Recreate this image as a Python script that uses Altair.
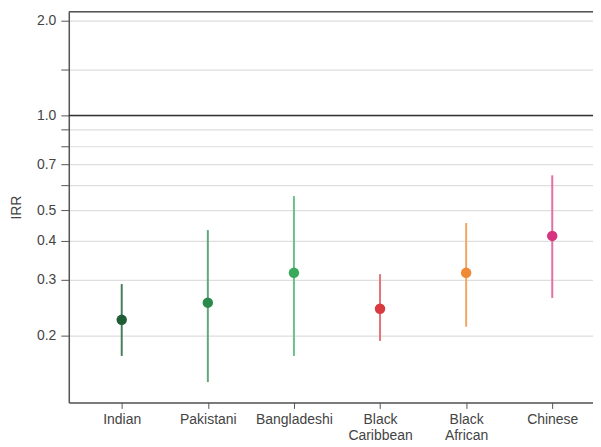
import altair as alt
import pandas as pd

categories = ["Indian", "Pakistani", "Bangladeshi", "Black Caribbean", "Black African", "Chinese"]
irr = [0.224, 0.254, 0.316, 0.243, 0.316, 0.414]
ci_low = [0.172, 0.142, 0.172, 0.192, 0.213, 0.263]
ci_high = [0.291, 0.432, 0.554, 0.313, 0.455, 0.645]
point_colors = ["#1f5d37", "#2b8a4b", "#3aa95b", "#d93a40", "#ee8a36", "#d6347f"]
bar_colors = ["#4a7d5c", "#62a67c", "#6cbf88", "#e0757b", "#f2a663", "#e070a6"]

y_ticks = [0.2, 0.3, 0.4, 0.5, 0.6, 0.7, 0.8, 0.9, 1.0, 1.4, 2.0]
labelled = [0.2, 0.3, 0.4, 0.5, 0.7, 1.0, 2.0]
ref_value = [1.0]

df = pd.DataFrame({"group": categories, "irr": irr, "lo": ci_low, "hi": ci_high})
ref_df = pd.DataFrame({"v": ref_value})

W, H = 526, 392
FONT = "Liberation Sans"
FS = 14

xscale = alt.Scale(type="point", domain=categories, padding=0.544, align=0.565)
yscale = alt.Scale(type="log", domain=[0.1224, 2.136], nice=False, zero=False)

x_enc = alt.X("group:N", scale=xscale, sort=categories,
              axis=alt.Axis(title=None, labelAngle=0,
                            labelExpr="split(datum.label, ' ')",
                            labelFontSize=FS, labelColor="#444", labelFont=FONT,
                            labelLineHeight=16, tickSize=6, tickColor="#555",
                            domainColor="#555", domainWidth=1.5, labelPadding=4,
                            grid=False))

lab_arr = "[" + ",".join(str(v) for v in labelled) + "]"
y_axis = alt.Axis(title="IRR", values=y_ticks,
                  labelExpr=f"indexof({lab_arr}, datum.value) >= 0 ? format(datum.value, '.1f') : ''",
                  labelFontSize=FS, labelColor="#444", labelFont=FONT,
                  titleFontSize=FS, titleColor="#444", titleFont=FONT, titleFontWeight="normal",
                  titlePadding=13, tickSize=8, tickColor="#555", domainColor="#555",
                  domainWidth=1.5, labelPadding=5, grid=True, gridColor="#dedede",
                  gridWidth=1.2, labelFlush=False)

bars = alt.Chart(df).mark_rule(strokeWidth=2).encode(
    x=x_enc,
    y=alt.Y("lo:Q", scale=yscale, axis=y_axis),
    y2="hi:Q",
    color=alt.Color("group:N", scale=alt.Scale(domain=categories, range=bar_colors), legend=None),
)

points = alt.Chart(df).mark_circle(size=110, opacity=1).encode(
    x=alt.X("group:N", scale=xscale, sort=categories),
    y=alt.Y("irr:Q", scale=yscale),
    color=alt.Color("group:N", scale=alt.Scale(domain=categories, range=point_colors), legend=None),
)

ref = alt.Chart(ref_df).mark_rule(color="#333", strokeWidth=1.5).encode(
    y=alt.Y("v:Q", scale=yscale),
)

top_line = alt.Chart(ref_df).mark_rule(color="#555", strokeWidth=1.5).encode(
    x=alt.value(0), x2=alt.value(W), y=alt.value(0)
)

chart = alt.layer(bars, points, ref, top_line).resolve_scale(color="independent").properties(
    width=W, height=H,
    autosize=alt.AutoSizeParams(type="none"),
    padding={"left": 61, "top": 3, "right": 0, "bottom": 44},
).configure_view(stroke=None).configure(background="white")

chart.save("out.html", embed_options={"renderer": "svg", "actions": False})
